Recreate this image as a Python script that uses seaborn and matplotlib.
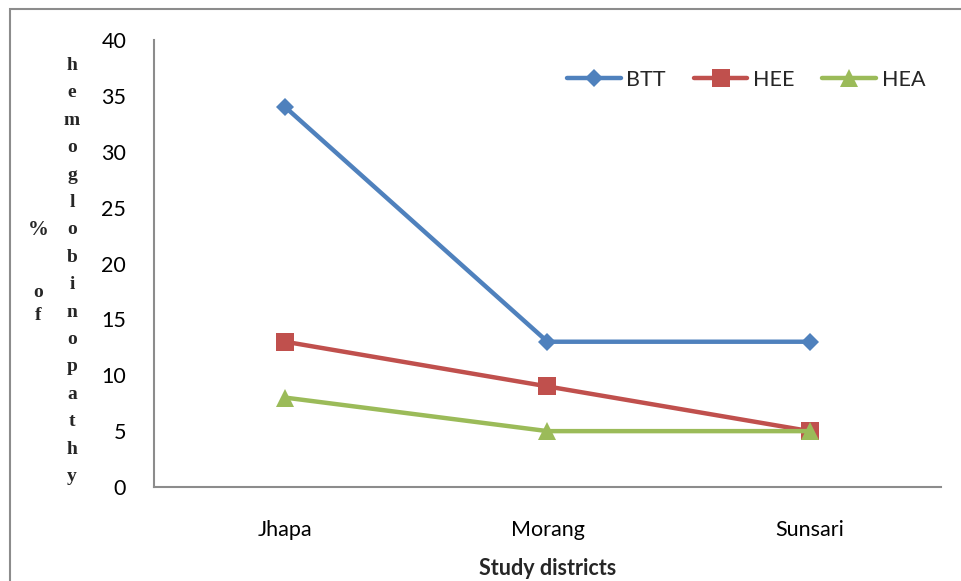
import matplotlib
matplotlib.use("Agg")
import matplotlib.pyplot as plt
import seaborn as sns
import pandas as pd
from matplotlib.patches import Rectangle

districts = ["Jhapa", "Morang", "Sunsari"]
btt = [34, 13, 13]
hee = [13, 9, 5]
hea = [8, 5, 5]
series_names = ["BTT", "HEE", "HEA"]
y_ticks = [0, 5, 10, 15, 20, 25, 30, 35, 40]

sns.set_style("white")
plt.rcParams["font.family"] = ["Lato", "DejaVu Sans"]

df = pd.DataFrame({
    "district": districts * 3,
    "x": list(range(len(districts))) * 3,
    "value": btt + hee + hea,
    "series": [s for s in series_names for _ in districts],
})

colors = {"BTT": "#4F81BD", "HEE": "#C0504D", "HEA": "#9BBB59"}
markers = {"BTT": "D", "HEE": "s", "HEA": "^"}
msizes = {"BTT": 9.5, "HEE": 12.5, "HEA": 13}

fig = plt.figure(figsize=(9.62, 5.81), dpi=100)
ax = fig.add_axes([154 / 962, 1 - 487 / 581, (941 - 154) / 962, (487 - 40) / 581])

for name in series_names:
    sub = df[df["series"] == name]
    sns.lineplot(data=sub, x="x", y="value", ax=ax, color=colors[name],
                 marker=markers[name], markersize=msizes[name], linewidth=3.2,
                 markeredgewidth=0, label=name, legend=False)

ax.set_xlim(-0.5, len(districts) - 0.5)
ax.set_ylim(0, 40)
ax.set_yticks(y_ticks)
ax.set_yticklabels([str(t) for t in y_ticks])
ax.set_xticks(range(len(districts)))
ax.set_xticklabels(districts)
ax.tick_params(axis="both", length=0, labelsize=15.5, colors="black")
ax.tick_params(axis="y", pad=20)
ax.tick_params(axis="x", pad=24)
for s in ["top", "right"]:
    ax.spines[s].set_visible(False)
for s in ["left", "bottom"]:
    ax.spines[s].set_color("#8c8c8c")
    ax.spines[s].set_linewidth(1.5)
ax.set_xlabel("Study districts", fontsize=15.5, fontweight="bold", labelpad=13)
ax.set_ylabel("")

handles, labels = ax.get_legend_handles_labels()
fig.legend(handles, labels, loc="center", bbox_to_anchor=(746 / 962, 1 - 80 / 581),
           ncol=3, frameon=False, fontsize=15.5, handlelength=2.5, handletextpad=0.25,
           columnspacing=1.3)

# stacked y-axis label
word = "hemoglobinopathy"
fig.text(72 / 962, 1 - 57 / 581, "\n".join(word), ha="center", va="top",
         family="Liberation Serif", fontweight="bold", fontsize=14, linespacing=1.8)
fig.text(38 / 962, 1 - 230 / 581, "%", ha="center", va="center",
         family="Liberation Serif", fontweight="bold", fontsize=15)
fig.text(38 / 962, 1 - 284 / 581, "o\nf", ha="center", va="top",
         family="Liberation Serif", fontweight="bold", fontsize=14, linespacing=1.5)

fig.add_artist(Rectangle((10 / 962, -0.1), 1.1, 1 - 9 / 581 + 0.1, transform=fig.transFigure,
                         fill=False, edgecolor="#8c8c8c", linewidth=1.5))

fig.savefig("out.png", dpi=100)
